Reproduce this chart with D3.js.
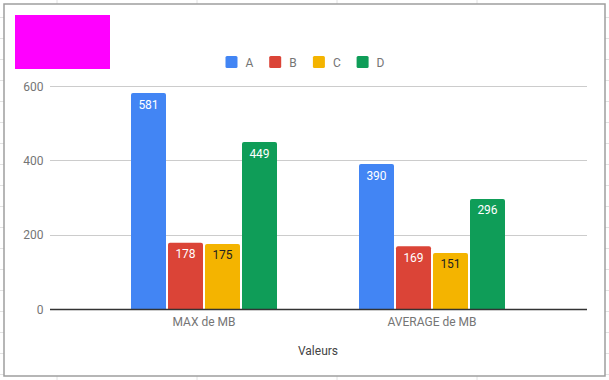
<!DOCTYPE html>
<html><head><meta charset="utf-8">
<script src="https://cdn.jsdelivr.net/npm/d3@7"></script>
<style>html,body{margin:0;padding:0;background:#fff;}svg{display:block;font-family:Roboto, Arial, sans-serif;}</style>
</head><body>
<svg id="c" width="609" height="380"></svg>
<script>
const categories = ["MAX de MB", "AVERAGE de MB"];
const seriesNames = ["A", "B", "C", "D"];
const seriesA = [581, 390];
const seriesB = [178, 169];
const seriesC = [175, 151];
const seriesD = [449, 296];
const yTicks = [0, 200, 400, 600];
const colors = ["#4285f4", "#db4437", "#f4b400", "#0f9d58"];
const labelColors = ["#ffffff", "#ffffff", "#222222", "#ffffff"];
const xTitle = "Valeurs";

const allSeries = [seriesA, seriesB, seriesC, seriesD];
const svg = d3.select("#c");

// spreadsheet background grid
const bg = svg.append("g");
d3.range(-1, 8).forEach(i => {
  bg.append("line").attr("x1", 57 + i*140).attr("x2", 57 + i*140).attr("y1", 0).attr("y2", 380).attr("stroke", "#e2e2e2").attr("stroke-width", 1);
});
d3.range(-1, 19).forEach(i => {
  bg.append("line").attr("x1", 0).attr("x2", 609).attr("y1", 17.5 + i*21).attr("y2", 17.5 + i*21).attr("stroke", "#e2e2e2").attr("stroke-width", 1);
});

// chart box
svg.append("rect").attr("x", 4).attr("y", 4).attr("width", 601).attr("height", 372)
  .attr("fill", "#fff").attr("stroke", "#9e9e9e").attr("stroke-width", 1.5);

// magenta block
svg.append("rect").attr("x", 15).attr("y", 15).attr("width", 95).attr("height", 54).attr("fill", "#ff00ff");

const y = d3.scaleLinear().domain([0, 600]).range([309, 86]);
const x0 = d3.scaleBand().domain(categories).range([90, 546]).paddingInner(82/228).paddingOuter(41/228/ (1)).align(0.5);
const x1 = d3.scaleBand().domain(seriesNames).range([0, x0.bandwidth()]).paddingInner(2/37).paddingOuter(0);

// gridlines
const gridL = 50, gridR = 587;
svg.append("g").selectAll("line").data(yTicks.filter(t => t !== 0)).join("line")
  .attr("x1", gridL).attr("x2", gridR).attr("y1", d => Math.round(y(d)) + 0.5).attr("y2", d => Math.round(y(d)) + 0.5)
  .attr("stroke", "#cccccc").attr("stroke-width", 1);

// y axis labels
svg.append("g").selectAll("text").data(yTicks).join("text")
  .attr("x", 43.5).attr("y", d => y(d) + 4.5).attr("text-anchor", "end")
  .attr("font-size", 12).attr("fill", "#757575").text(d => d);

// bars
const barPath = (x, yTop, w, yBot, r) => {
  const h = yBot - yTop;
  r = Math.min(r, h);
  return `M${x},${yBot}V${yTop + r}Q${x},${yTop} ${x + r},${yTop}H${x + w - r}Q${x + w},${yTop} ${x + w},${yTop + r}V${yBot}Z`;
};
categories.forEach((cat, ci) => {
  const g = svg.append("g").attr("transform", `translate(${x0(cat)},0)`);
  seriesNames.forEach((s, si) => {
    const v = allSeries[si][ci];
    const bx = x1(s), bw = x1.bandwidth();
    g.append("path").attr("d", barPath(bx, y(v), bw, y(0), 2)).attr("fill", colors[si]);
    g.append("text").attr("x", bx + bw/2).attr("y", y(v) + 15.5).attr("text-anchor", "middle")
      .attr("font-size", 12).attr("fill", labelColors[si]).text(v);
  });
});

// baseline
svg.append("line").attr("x1", gridL).attr("x2", gridR).attr("y1", y(0) + 0.5).attr("y2", y(0) + 0.5)
  .attr("stroke", "#333333").attr("stroke-width", 1.3);

// category labels
svg.append("g").selectAll("text").data(categories).join("text")
  .attr("x", d => x0(d) + x0.bandwidth()/2).attr("y", 326).attr("text-anchor", "middle")
  .attr("font-size", 12).attr("fill", "#757575").text(d => d);

// x title
svg.append("text").attr("x", 318).attr("y", 355).attr("text-anchor", "middle")
  .attr("font-size", 12).attr("fill", "#444").text(xTitle);

// legend
const lg = svg.append("g");
seriesNames.forEach((s, i) => {
  const lx = 225.5 + i*43.7;
  lg.append("rect").attr("x", lx).attr("y", 56).attr("width", 12).attr("height", 12).attr("rx", 1.5).attr("fill", colors[i]);
  lg.append("text").attr("x", lx + 20).attr("y", 66.5).attr("font-size", 12).attr("fill", "#757575").text(s);
});
</script>
</body></html>
